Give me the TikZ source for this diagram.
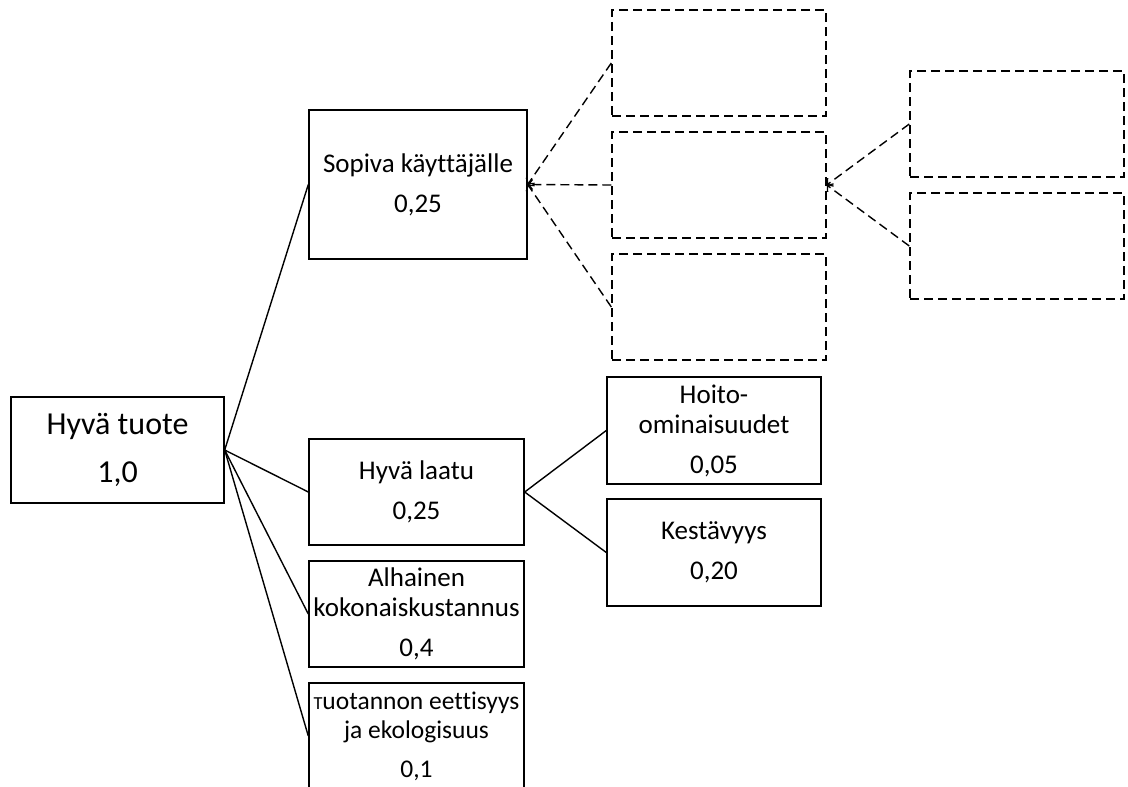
\documentclass[tikz,border=0pt]{standalone}
\usepackage{fontspec}
\setmainfont[Ligatures=NoCommon]{Carlito}
\usetikzlibrary{arrows.meta}
\tikzset{
  box/.style={draw=black, line width=1.4pt, inner sep=0pt, align=center,
    font=\fontsize{27}{30}\selectfont, minimum width=214pt, minimum height=106pt},
  dbox/.style={box, dash pattern=on 9pt off 5pt},
  conn/.style={draw=black, line width=1.4pt},
  dconn/.style={conn, dash pattern=on 9pt off 5pt, -{Straight Barb[length=4pt,width=10pt,line width=1.3pt]}}
}
\newcommand{\smallT}{\scalebox{0.72}{T}}
\begin{document}
\begin{tikzpicture}[x=1pt,y=-1pt]
\useasboundingbox (0,0) rectangle (1128,787);
\clip (0,0) rectangle (1128,787);
\node[box, minimum width=213pt, font=\fontsize{32}{36}\selectfont] (tuote) at (117.5,450) {Hyvä tuote\\[12pt]1,0};
\node[box, minimum width=218pt, minimum height=149pt] (sop) at (418,184.5) {Sopiva käyttäjälle\\[10pt]0,25};
\node[box, minimum width=215pt] (laatu) at (416.5,492) {Hyvä laatu\\[10pt]0,25};
\node[box, minimum width=215pt] (alh) at (416.5,614) {Alhainen\\kokonaiskustannus\\[10pt]0,4};
\node[box, minimum width=215pt, font=\fontsize{25.5}{29}\selectfont] (tuo) at (416.5,736) {\smallT uotannon eettisyys\\ja ekologisuus\\[10pt]0,1};
\node[box, minimum height=107pt] (hoito) at (714,430.5) {Hoito-\\ominaisuudet\\[10pt]0,05};
\node[box, minimum height=107pt] (kest) at (714,552.5) {Kestävyys\\[10pt]0,20};
\node[dbox] (d1) at (719,63) {};
\node[dbox] (d2) at (719,185) {};
\node[dbox] (d3) at (719,307) {};
\node[dbox] (dA) at (1017,124) {};
\node[dbox] (dB) at (1017,246) {};
\draw[conn] (tuote.east) -- (sop.west);
\draw[conn] (tuote.east) -- (laatu.west);
\draw[conn] (tuote.east) -- (alh.west);
\draw[conn] (tuote.east) -- (tuo.west);
\draw[conn] (laatu.east) -- (hoito.west);
\draw[conn] (laatu.east) -- (kest.west);
\draw[dconn] (d1.west) -- (sop.east);
\draw[dconn] (d2.west) -- (sop.east);
\draw[dconn] (d3.west) -- (sop.east);
\draw[dconn] (dA.west) -- (d2.east);
\draw[dconn] (dB.west) -- (d2.east);
\end{tikzpicture}
\end{document}
